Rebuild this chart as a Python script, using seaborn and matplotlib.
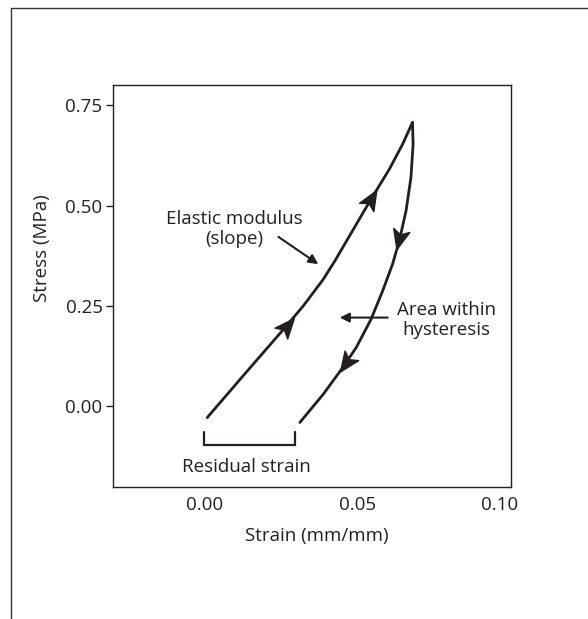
import numpy as np
import pandas as pd
import matplotlib
matplotlib.use("Agg")
import matplotlib.pyplot as plt
import seaborn as sns
from matplotlib.path import Path
from matplotlib.markers import MarkerStyle
from matplotlib.transforms import Affine2D, ScaledTranslation
from matplotlib.lines import Line2D

# Loading branch of the stress-strain loop
load_strain = [0.0010, 0.0118, 0.0269, 0.0323, 0.0388, 0.0426, 0.0544, 0.0604, 0.0647, 0.0679]
load_stress = [-0.028, 0.068, 0.201, 0.250, 0.316, 0.362, 0.516, 0.591, 0.653, 0.707]

# Unloading branch
unload_strain = [0.0679, 0.0681, 0.0674, 0.0658, 0.0636, 0.0614, 0.0582, 0.0544, 0.0496, 0.0452, 0.0388, 0.0312]
unload_stress = [0.707, 0.653, 0.570, 0.487, 0.412, 0.354, 0.288, 0.217, 0.147, 0.097, 0.030, -0.040]

# Direction arrows sitting on each branch
load_arrow_strain = [0.0269, 0.0544]
load_arrow_stress = [0.201, 0.516]
unload_arrow_strain = [0.0636, 0.0463]
unload_arrow_stress = [0.417, 0.109]

# Residual strain bracket
residual_strain = [0.0, 0.0296]
bracket_stress = [-0.065, -0.097]

x_ticks = [0.00, 0.05, 0.10]
x_ticklabels = ["0.00", "0.05", "0.10"]
y_ticks = [0.00, 0.25, 0.50, 0.75]
y_ticklabels = ["0.00", "0.25", "0.50", "0.75"]

INK = "#231f20"
FS = 13.5

sns.set_style("white")
plt.rcParams["font.family"] = ["Open Sans", "DejaVu Sans"]
plt.rcParams["text.color"] = INK
plt.rcParams["axes.labelcolor"] = INK
plt.rcParams["xtick.color"] = INK
plt.rcParams["ytick.color"] = INK

fig = plt.figure(figsize=(5.88, 6.19), dpi=100)
ax = fig.add_axes([113.3 / 588, 1 - 486.7 / 619, (511 - 113.3) / 588, (486.7 - 85) / 619])

loop = pd.concat([
    pd.DataFrame({"strain": load_strain, "stress": load_stress, "branch": "loading"}),
    pd.DataFrame({"strain": unload_strain, "stress": unload_stress, "branch": "unloading"}),
])
for name, grp in loop.groupby("branch"):
    sns.lineplot(data=grp, x="strain", y="stress", sort=False, estimator=None,
                 color=INK, lw=2.0, ax=ax, legend=False)

ax.set_xlim(-0.0296, 0.1)
ax.set_ylim(-0.2, 0.8)
fig.canvas.draw()

# Swept arrowhead marker
head = Path([(1.0, 0.0), (-0.9, 0.8), (-0.45, 0.0), (-0.9, -0.8), (1.0, 0.0)],
            [Path.MOVETO, Path.LINETO, Path.LINETO, Path.LINETO, Path.CLOSEPOLY])


def place_heads(xs, ys, cx, cy):
    pts = ax.transData.transform(np.column_stack([xs, ys]))
    for px, py in zip(cx, cy):
        c = ax.transData.transform((px, py))
        d = np.hypot(pts[:, 0] - c[0], pts[:, 1] - c[1])
        i = int(np.argmin(d))
        i0, i1 = max(i - 1, 0), min(i + 1, len(xs) - 1)
        v = pts[i1] - pts[i0]
        ang = np.degrees(np.arctan2(v[1], v[0]))
        m = MarkerStyle(head, transform=Affine2D().rotate_deg(ang))
        ax.plot([px], [py], marker=m, markersize=15, color=INK, linestyle="none")


place_heads(load_strain, load_stress, load_arrow_strain, load_arrow_stress)
place_heads(unload_strain, unload_stress, unload_arrow_strain, unload_arrow_stress)

# Residual strain bracket
ax.plot([residual_strain[0], residual_strain[0], residual_strain[1], residual_strain[1]],
        [bracket_stress[0], bracket_stress[1], bracket_stress[1], bracket_stress[0]],
        color=INK, lw=1.6, solid_joinstyle="miter")
ax.text(np.mean(residual_strain) - 0.0011, -0.151, "Residual strain",
        ha="center", va="center", fontsize=FS)

# Annotations
ax.text(0.0097, 0.4415, "Elastic modulus\n(slope)", ha="center", va="center",
        multialignment="center", fontsize=FS, linespacing=1.2)
ax.annotate("", xy=(0.0372, 0.354), xytext=(0.0242, 0.422),
            arrowprops=dict(arrowstyle="-|>", lw=1.5, color=INK, mutation_scale=14,
                            shrinkA=0, shrinkB=0))
ax.text(0.0791, 0.215, "Area within\nhysteresis", ha="center", va="center",
        multialignment="center", fontsize=FS, linespacing=1.2)
ax.annotate("", xy=(0.0442, 0.221), xytext=(0.0598, 0.221),
            arrowprops=dict(arrowstyle="-|>", lw=1.5, color=INK, mutation_scale=14,
                            shrinkA=0, shrinkB=0))

ax.set_xticks(x_ticks)
ax.set_xticklabels(x_ticklabels)
ax.set_yticks(y_ticks)
ax.set_yticklabels(y_ticklabels)
ax.tick_params(axis="x", length=0, pad=7, labelsize=FS)
ax.tick_params(axis="y", length=4.7, width=1.0, pad=3, labelsize=FS, left=True)
# last x label sits slightly inside the frame edge
lbl = ax.get_xticklabels()[-1]
lbl.set_transform(lbl.get_transform() + ScaledTranslation(-11 / 100, 0, fig.dpi_scale_trans))

ax.set_xlabel("Strain (mm/mm)", fontsize=FS)
ax.set_ylabel("Stress (MPa)", fontsize=FS)
ax.xaxis.set_label_coords(0.511, -0.1)
ax.yaxis.set_label_coords(-0.156, 0.594)

for s in ax.spines.values():
    s.set_color(INK)
    s.set_linewidth(1.0)

# outer figure frame
x0, y0 = 10.5 / 588, 1 - 8 / 619
fig.add_artist(Line2D([x0, 1.0], [y0, y0], transform=fig.transFigure, color="#333333", lw=1.0))
fig.add_artist(Line2D([x0, x0], [y0, 0.0], transform=fig.transFigure, color="#333333", lw=1.0))

fig.savefig("out.png", dpi=100)
